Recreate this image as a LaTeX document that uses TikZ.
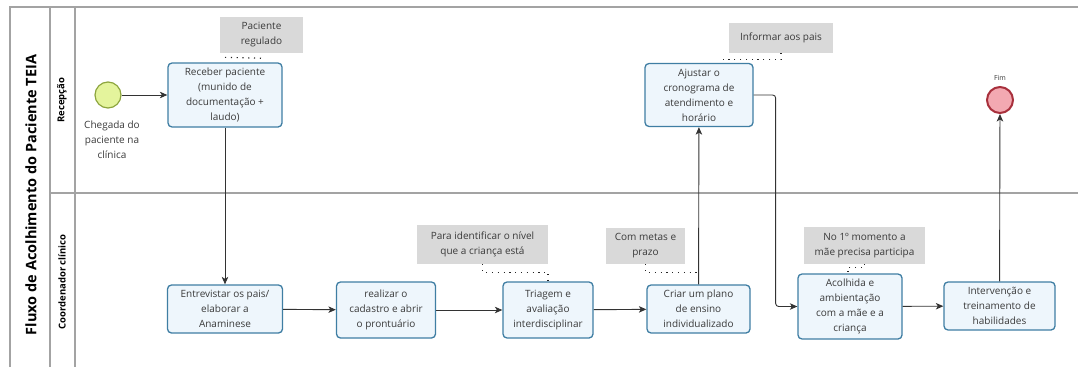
\documentclass[tikz,border=0pt]{standalone}
\usepackage{fontspec}
\setmainfont{Open Sans}
\usepackage{xcolor}
\usepackage{tikz}
\usetikzlibrary{calc, arrows.meta}

\definecolor{task fill}{HTML}{EEF6FC}
\definecolor{task border}{HTML}{3F7EA3}
\definecolor{note fill}{HTML}{D9D9D9}
\definecolor{lane line}{HTML}{A3A3A3}
\definecolor{start fill}{HTML}{E4F49C}
\definecolor{start border}{HTML}{8DA53E}
\definecolor{end fill}{HTML}{F3A9B1}
\definecolor{end border}{HTML}{A8303C}
\definecolor{text grey}{HTML}{3A3A3A}

\tikzset{
	task/.style = {draw = task border, fill = task fill, line width = 1.3pt, rounded corners = 4pt,
		align = center, inner sep = 1pt, text = text grey, font = \fontsize{10}{15}\selectfont},
	note/.style = {fill = note fill, align = center, inner sep = 1pt, text = text grey,
		font = \fontsize{10}{15}\selectfont},
	flow/.style = {draw = black!80, line width = 0.9pt, -{Stealth[length = 7.5pt, width = 6.5pt, inset = 2pt]}},
	assoc/.style = {draw = black!85, line width = 1.2pt, dash pattern = on 1.2pt off 4.6pt},
	pool line/.style = {draw = lane line, line width = 1.4pt},
	lane title/.style = {rotate = 90, font = \bfseries\fontsize{9.5}{11}\selectfont},
	event label/.style = {text = text grey, align = center, font = \fontsize{10}{15}\selectfont}
}

\begin{document}
\begin{tikzpicture}[x = 1pt, y = -1pt]
		\useasboundingbox (0,0) rectangle (1078,367);
		\def\eventr{13};
		
		% pool and lanes
		\draw [pool line] (10,367) -- (10,7) -- (1078,7);
		\draw [pool line] (50,7) -- (50,367);
		\draw [pool line] (75,7) -- (75,367);
		\draw [pool line] (50,193) -- (1078,193);
		
		\node [rotate = 90, font = \bfseries\fontsize{14.5}{16}\selectfont] (pool title) at (31,195) {Fluxo de Acolhimento do Paciente TEIA};
		\node [lane title] (lane recepcao) at (62,100) {Recepção};
		\node [lane title] (lane coordenador) at (62,282) {Coordenador clínico};
		
		% events
		\node [circle, draw = start border, fill = start fill, line width = 1.2pt, minimum size = 2*\eventr pt, inner sep = 0pt] (start event) at (108,95) {};
		\node [event label] (start label) at (112,140) {Chegada do\\paciente na\\clínica};
		
		\node [circle, draw = end border, fill = end fill, line width = 2pt, minimum size = 2*\eventr pt, inner sep = 0pt] (end event) at (1000,100) {};
		\node [text = text grey, font = \fontsize{7}{8}\selectfont] (end label) at (1000,78) {Fim};
		
		% tasks
		\node [task, minimum width = 114pt, minimum height = 64pt] (receber) at (225,95) {Receber paciente\\(munido de\\documentação +\\laudo)};
		\node [task, minimum width = 108pt, minimum height = 63pt] (ajustar) at (699,95) {Ajustar o\\cronograma de\\atendimento e\\horário};
		
		\node [task, minimum width = 115pt, minimum height = 48pt] (entrevistar) at (225,309) {Entrevistar os pais/\\elaborar a\\Anaminese};
		\node [task, minimum width = 99pt, minimum height = 56pt] (realizar) at (386,310) {realizar o\\cadastro e abrir\\o prontuário};
		\node [task, minimum width = 90pt, minimum height = 56pt] (triagem) at (548,310) {Triagem e\\avaliação\\interdisciplinar};
		\node [task, minimum width = 103pt, minimum height = 48pt] (criar) at (698.5,309) {Criar um plano\\de ensino\\individualizado};
		\node [task, minimum width = 104pt, minimum height = 65pt] (acolhida) at (850,306.5) {Acolhida e\\ambientação\\com a mãe e a\\criança};
		\node [task, minimum width = 111pt, minimum height = 48pt] (intervencao) at (999.5,306) {Intervenção e\\treinamento de\\habilidades};
		
		% annotations
		\node [note, minimum width = 83pt, minimum height = 36pt] (regulado) at (261.5,35) {Paciente\\regulado};
		\node [note, minimum width = 104pt, minimum height = 30pt] (informar) at (781,38) {Informar aos pais};
		\node [note, minimum width = 131pt, minimum height = 39pt] (para) at (482.5,244.5) {Para identificar o nível\\que a criança está};
		\node [note, minimum width = 79pt, minimum height = 36pt] (metas) at (645.5,246) {Com metas e\\prazo};
		\node [note, minimum width = 121pt, minimum height = 37pt] (momento) at (864.5,245.5) {No 1º momento a\\mãe precisa participa};
		
		% sequence flows
		\draw [flow] (start event) -- (receber);
		\draw [flow] (receber) -- (entrevistar);
		\draw [flow] (entrevistar) -- (realizar);
		\draw [flow] (realizar) -- (triagem);
		\draw [flow] (triagem) -- (criar);
		\draw [flow] (criar) -- (ajustar);
		\draw [flow, rounded corners = 3pt] (ajustar.east) -- ++(22,0) |- (acolhida.west);
		\draw [flow] (acolhida) -- (intervencao);
		\draw [flow] (intervencao) -- (end event);
		
		% associations
		\draw [assoc] ($(receber.north) + (0,-5)$) -- ($(regulado.south) + (0,5)$);
		\draw [assoc] (informar.south) |- ($(ajustar.north) + (24,-3)$);
		\draw [assoc] (para.south) -- ++(0,8) -| (triagem.north);
		\draw [assoc] (metas.south) |- ($(criar.north) + (0,-12)$);
		\draw [assoc] (momento.south) |- ($(acolhida.north) + (-2,-6)$) -- ($(acolhida.north) + (-2,0)$);
	\end{tikzpicture}
\end{document}
